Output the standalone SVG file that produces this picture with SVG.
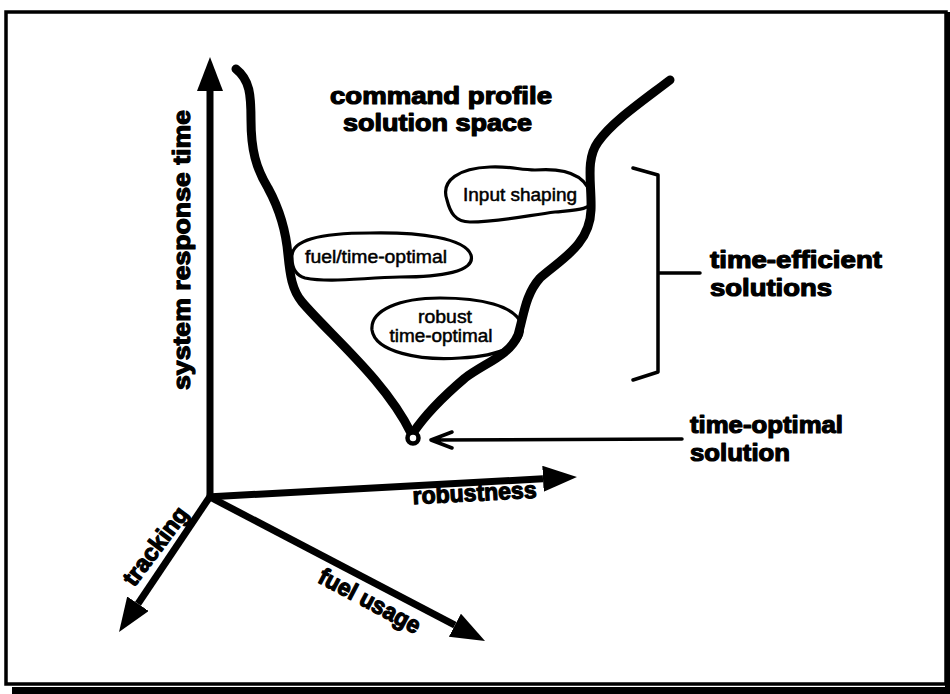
<svg xmlns="http://www.w3.org/2000/svg" width="950" height="694" viewBox="0 0 950 694">
  <defs>
    <style>
      .heavy { font-family: "Liberation Sans", Arial, sans-serif; font-weight: bold; font-size: 24px; fill: #000; stroke: #000; stroke-width: 1.2px; stroke-linejoin: round; }
      .lbl { font-family: "Liberation Sans", Arial, sans-serif; font-size: 18px; fill: #000; stroke: #000; stroke-width: 0.5px; }
      .axis { stroke: #000; stroke-width: 7; fill: none; stroke-linecap: butt; }
      .curve { stroke: #000; stroke-width: 9; fill: none; stroke-linecap: round; stroke-linejoin: round; }
      .blob { stroke: #000; stroke-width: 3.2; fill: none; }
      .thin { stroke: #000; stroke-width: 3.5; fill: none; stroke-linecap: round; stroke-linejoin: round; }
    </style>
    <marker id="ah" markerUnits="userSpaceOnUse" markerWidth="40" markerHeight="30" refX="0" refY="13" orient="auto" viewBox="0 0 40 30">
      <path d="M0,0 L34,13 L0,26 Z" fill="#000"/>
    </marker>
  </defs>

  <rect x="0" y="0" width="950" height="694" fill="#fff"/>
  <g id="frame">
    <rect x="6" y="12" width="940" height="672" fill="#fff" stroke="#000" stroke-width="3.5"/>
    <rect x="12" y="687" width="938" height="7" fill="#000"/>
    <rect x="945" y="12" width="5" height="682" fill="#000"/>
  </g>

  <g id="connectors">
    <line id="axis-time" class="axis" x1="210" y1="500" x2="210" y2="91" marker-end="url(#ah)"/>
    <line id="axis-robustness" class="axis" x1="207" y1="497" x2="543" y2="478.8" marker-end="url(#ah)"/>
    <line id="axis-tracking" class="axis" x1="211" y1="495" x2="138" y2="603.8" marker-end="url(#ah)"/>
    <line id="axis-fuel" class="axis" x1="208" y1="496" x2="454.9" y2="625.2" marker-end="url(#ah)"/>
    <path id="arrow-optimal" class="thin" d="M682,439 L431,440 M452,432 L431,440 L452,448"/>
    <path id="bracket" class="thin" d="M633,168 L658,175 L658,372 L633,380 M658,273 L700,273"/>
  </g>

  <g id="solution-space">
    <path class="curve" d="M236,69 C250,80 251,95 251,120 C251,150 256,168 268,188 C280,210 286,230 288,255 C290,275 292,290 302,302 C330,335 385,380 411,433"/>
    <path class="curve" d="M413,433 C425,415 445,395 465,378 C485,363 510,355 518,335 C524,315 525,295 540,278 C560,260 590,245 591,210 C592,185 585,160 598,142 C612,122 640,103 670,80"/>
    <circle cx="413" cy="438" r="5.5" fill="#fff" stroke="#000" stroke-width="4.5"/>
  </g>

  <g id="node-input-shaping">
    <path class="blob" d="M447,200 C440,180 460,168 490,167 C510,166 520,170 535,170 C560,168 588,172 592,200 C592,210 575,210 555,212 C530,215 500,222 470,222 C455,222 450,212 447,200 Z"/>
    <text class="lbl" x="520" y="201" text-anchor="middle" textLength="114" lengthAdjust="spacingAndGlyphs">Input shaping</text>
  </g>

  <g id="node-fuel-time-optimal">
    <path class="blob" d="M292,258 C290,240 320,233 370,233 C420,232 465,238 471,255 C476,272 440,277 400,277 C360,278 330,283 305,278 C295,275 292,268 292,258 Z"/>
    <text class="lbl" x="376" y="263" text-anchor="middle" textLength="142" lengthAdjust="spacingAndGlyphs">fuel/time-optimal</text>
  </g>

  <g id="node-robust-time-optimal">
    <path class="blob" d="M372,330 C370,310 400,298 440,298 C480,298 515,305 522,325 C526,345 500,356 460,358 C420,361 375,352 372,330 Z"/>
    <text class="lbl" x="445" y="323" text-anchor="middle" textLength="54" lengthAdjust="spacingAndGlyphs">robust</text>
    <text class="lbl" x="441" y="342" text-anchor="middle" textLength="103" lengthAdjust="spacingAndGlyphs">time-optimal</text>
  </g>

  <g id="labels">
    <text class="heavy" x="441" y="104" text-anchor="middle" textLength="222" lengthAdjust="spacingAndGlyphs">command profile</text>
    <text class="heavy" x="437.5" y="131" text-anchor="middle" textLength="189" lengthAdjust="spacingAndGlyphs">solution space</text>
    <text class="heavy" x="710" y="268" textLength="172" lengthAdjust="spacingAndGlyphs">time-efficient</text>
    <text class="heavy" x="710" y="296" textLength="122" lengthAdjust="spacingAndGlyphs">solutions</text>
    <text class="heavy" x="690" y="433" textLength="153" lengthAdjust="spacingAndGlyphs">time-optimal</text>
    <text class="heavy" x="690" y="461" textLength="100" lengthAdjust="spacingAndGlyphs">solution</text>
    <text class="heavy" transform="translate(475,501) rotate(-3)" x="0" y="0" text-anchor="middle" textLength="124" lengthAdjust="spacingAndGlyphs">robustness</text>
    <text class="heavy" transform="translate(190,250) rotate(-90)" x="0" y="0" text-anchor="middle" textLength="280" lengthAdjust="spacingAndGlyphs">system response time</text>
    <text class="heavy" transform="translate(162,551) rotate(-53)" x="0" y="0" text-anchor="middle" textLength="92" lengthAdjust="spacingAndGlyphs">tracking</text>
    <text class="heavy" transform="translate(366,608) rotate(28)" x="0" y="0" text-anchor="middle" textLength="112" lengthAdjust="spacingAndGlyphs">fuel usage</text>
  </g>
</svg>
